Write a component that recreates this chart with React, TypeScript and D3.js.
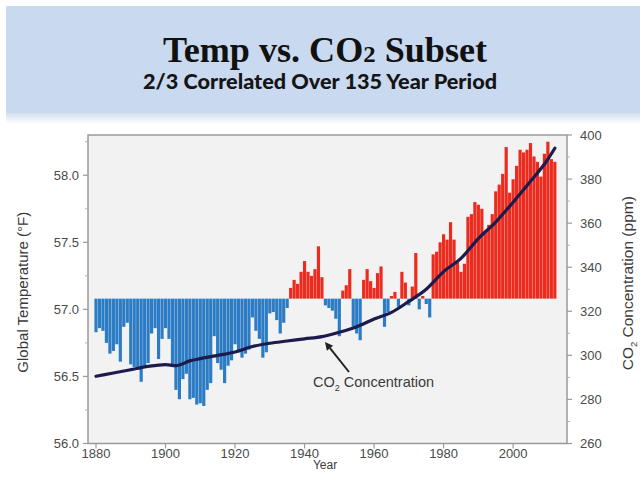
import React from 'react';
import * as d3 from 'd3';

const START_YEAR = 1880;
// Global temperature (°F), one value per year from 1880
const tempF = [
  56.83, 56.86, 56.84, 56.75, 56.67, 56.69, 56.74, 56.61, 56.87, 56.90,
  56.59, 56.57, 56.55, 56.46, 56.58, 56.60, 56.82, 56.86, 56.63, 56.78,
  56.86, 56.78, 56.57, 56.40, 56.33, 56.48, 56.52, 56.33, 56.34, 56.29,
  56.30, 56.28, 56.40, 56.45, 56.80, 56.60, 56.55, 56.45, 56.58, 56.62,
  56.74, 56.68, 56.64, 56.67, 56.70, 56.94, 56.84, 56.78, 56.64, 56.68,
  56.97, 56.98, 56.92, 56.82, 56.90, 57.01, 57.16, 57.22, 57.19, 57.28,
  57.36, 57.28, 57.25, 57.30, 57.47, 57.24, 57.03, 57.01, 56.99, 56.93,
  56.80, 57.14, 57.18, 57.30, 56.87, 56.82, 56.77, 57.22, 57.30, 57.21,
  57.16, 57.27, 57.32, 56.87, 56.98, 57.10, 57.13, 57.02, 57.28, 57.20,
  57.03, 57.17, 57.42, 57.00, 57.10, 57.04, 56.94, 57.41, 57.43, 57.50,
  57.56, 57.52, 57.65, 57.52, 57.35, 57.28, 57.34, 57.69, 57.71, 57.80,
  57.78, 57.75, 57.57, 57.63, 57.71, 57.88, 57.93, 58.01, 58.21, 57.87,
  57.97, 58.07, 58.19, 58.17, 58.19, 58.24, 58.14, 58.10, 57.99, 58.16,
  58.25, 58.12, 58.10,
];
const BASELINE_F = 57.08;

const co2Years = [1880, 1885, 1890, 1895, 1900, 1903, 1907, 1910, 1915, 1920, 1925, 1930, 1935, 1940, 1945, 1950, 1955, 1960, 1965, 1970, 1975, 1980, 1985, 1990, 1995, 2000, 2005, 2010, 2012];
const co2Ppm = [290.5, 292.0, 293.5, 295.0, 295.8, 295.3, 297.5, 298.5, 300.0, 301.5, 304.0, 305.5, 306.5, 307.5, 308.5, 310.5, 313.0, 316.5, 319.5, 324.5, 330.0, 338.0, 344.0, 353.0, 360.5, 369.5, 379.0, 389.0, 394.0];

const tempTicks = [56.0, 56.5, 57.0, 57.5, 58.0];
const tempMinorTicks = [56.25, 56.75, 57.25, 57.75, 58.25];
const co2Ticks = [260, 280, 300, 320, 340, 360, 380, 400];
const co2MinorTicks = [270, 290, 310, 330, 350, 370, 390];
const yearTicks = [1880, 1900, 1920, 1940, 1960, 1980, 2000];

const W = 640;
const H = 482;
const PL = 88, PR = 567, PT = 135, PB = 443.5;

export default function App() {
  const x = d3.scaleLinear().domain([1877.7, 2015.5]).range([PL, PR]);
  const yT = d3.scaleLinear().domain([56, 58.3]).range([PB, PT]);
  const yC = d3.scaleLinear().domain([260, 400]).range([PB, PT]);
  const step = x(START_YEAR + 1) - x(START_YEAR);

  const bars = tempF.map((v, i) => {
    const yr = START_YEAR + i;
    const y0 = yT(BASELINE_F);
    const y1 = yT(v);
    return {
      yr,
      x: x(yr) - step / 2 + 0.15,
      w: step - 0.3,
      y: Math.min(y0, y1),
      h: Math.abs(y1 - y0),
      warm: v >= BASELINE_F,
    };
  });

  const co2Data = co2Years.map((yr, i) => [yr, co2Ppm[i]] as [number, number]);
  const line = d3
    .line<[number, number]>()
    .x((d) => x(d[0]))
    .y((d) => yC(d[1]))
    .curve(d3.curveMonotoneX);

  const tickFont = { fontFamily: 'Liberation Sans, Arial, sans-serif', fontSize: 13, fill: '#4a4a4a' };

  // arrow annotation
  const ax0 = 349, ay0 = 372, ax1 = 325, ay1 = 342;
  const ang = Math.atan2(ay1 - ay0, ax1 - ax0);
  const ah = 8, aw = 4;
  const bx = ax1 - ah * Math.cos(ang), by = ay1 - ah * Math.sin(ang);
  const headPts = [
    [ax1, ay1],
    [bx + aw * Math.sin(ang), by - aw * Math.cos(ang)],
    [bx - aw * Math.sin(ang), by + aw * Math.cos(ang)],
  ].map((p) => p.join(',')).join(' ');

  return (
    <svg width={W} height={H} style={{ position: 'absolute', left: 0, top: 0 }} xmlns="http://www.w3.org/2000/svg">
      <defs>
        <linearGradient id="hdrShade" x1="0" y1="0" x2="0" y2="1">
          <stop offset="0" stopColor="#d4e0f0" />
          <stop offset="1" stopColor="#ffffff" />
        </linearGradient>
      </defs>
      <rect x={0} y={0} width={W} height={H} fill="#ffffff" />
      {/* header */}
      <rect x={6} y={6} width={W - 6} height={107} fill="#c9d9ef" />
      <rect x={6} y={113} width={W - 6} height={11} fill="url(#hdrShade)" />
      <text
        x={325}
        y={62}
        textAnchor="middle"
        fontFamily="Liberation Serif, DejaVu Serif, serif"
        fontWeight="bold"
        fontSize={35}
        fill="#111"
        textLength={324}
        lengthAdjust="spacingAndGlyphs"
      >
        Temp vs. CO<tspan fontSize={24}>2</tspan> Subset
      </text>
      <text
        x={320}
        y={89}
        textAnchor="middle"
        fontFamily="Lato, Open Sans, sans-serif"
        fontWeight="900"
        fontSize={20}
        fill="#151515"
        textLength={354}
        lengthAdjust="spacingAndGlyphs"
      >
        2/3 Correlated Over 135 Year Period
      </text>

      {/* plot area */}
      <rect x={PL} y={PT} width={PR - PL} height={PB - PT} fill="#f2f2f2" />
      {bars.map((b) => (
        <rect key={b.yr} x={b.x} y={b.y} width={b.w} height={b.h} fill={b.warm ? '#ec2a1e' : '#2b7cc4'} />
      ))}
      <path d={line(co2Data) || ''} fill="none" stroke="#1b1b4d" strokeWidth={3.2} strokeLinejoin="round" strokeLinecap="round" />

      {/* annotation */}
      <line x1={ax0} y1={ay0} x2={bx} y2={by} stroke="#222" strokeWidth={2} />
      <polygon points={headPts} fill="#222" />
      <text x={313} y={387} fontFamily="Liberation Sans, Arial, sans-serif" fontSize={14.5} fill="#3a3a3a">
        CO<tspan fontSize={9} dy={4}>2</tspan>
        <tspan dy={-4}> Concentration</tspan>
      </text>

      {/* frame */}
      <rect x={PL} y={PT} width={PR - PL} height={PB - PT} fill="none" stroke="#9a9a9a" strokeWidth={1.5} />

      {/* left axis */}
      {tempTicks.map((t) => (
        <g key={'lt' + t}>
          <line x1={PL - 5} x2={PL} y1={yT(t)} y2={yT(t)} stroke="#9a9a9a" strokeWidth={1.2} />
          <text x={PL - 9} y={yT(t) + 4.5} textAnchor="end" {...tickFont}>
            {t.toFixed(1)}
          </text>
        </g>
      ))}
      {tempMinorTicks.map((t) => (
        <line key={'lm' + t} x1={PL - 3} x2={PL} y1={yT(t)} y2={yT(t)} stroke="#b0b0b0" strokeWidth={1} />
      ))}
      {/* right axis */}
      {co2Ticks.map((t) => (
        <g key={'rt' + t}>
          <line x1={PR} x2={PR + 5} y1={yC(t)} y2={yC(t)} stroke="#9a9a9a" strokeWidth={1.2} />
          <text x={PR + 13} y={yC(t) + 4.5} textAnchor="start" {...tickFont}>
            {t}
          </text>
        </g>
      ))}
      {co2MinorTicks.map((t) => (
        <line key={'rm' + t} x1={PR} x2={PR + 3} y1={yC(t)} y2={yC(t)} stroke="#b0b0b0" strokeWidth={1} />
      ))}
      {/* bottom axis */}
      {yearTicks.map((t) => (
        <g key={'bt' + t}>
          <line x1={x(t)} x2={x(t)} y1={PB} y2={PB + 5} stroke="#9a9a9a" strokeWidth={1.2} />
          <text x={x(t)} y={PB + 14} textAnchor="middle" {...tickFont}>
            {t}
          </text>
        </g>
      ))}

      {/* axis titles */}
      <text
        transform={`translate(28, ${(PT + PB) / 2 + 3}) rotate(-90)`}
        textAnchor="middle"
        fontFamily="Liberation Sans, Arial, sans-serif"
        fontSize={15}
        fill="#3a3a3a"
      >
        Global Temperature (°F)
      </text>
      <text x={325} y={469} textAnchor="middle" fontFamily="Liberation Sans, Arial, sans-serif" fontSize={12} fill="#3a3a3a">
        Year
      </text>
      <text
        transform={`translate(633, ${(PT + PB) / 2 - 6}) rotate(-90)`}
        textAnchor="middle"
        fontFamily="Liberation Sans, Arial, sans-serif"
        fontSize={15.5}
        fill="#3a3a3a"
      >
        CO<tspan fontSize={9.5} dy={4}>2</tspan>
        <tspan dy={-4}> Concentration (ppm)</tspan>
      </text>
    </svg>
  );
}
